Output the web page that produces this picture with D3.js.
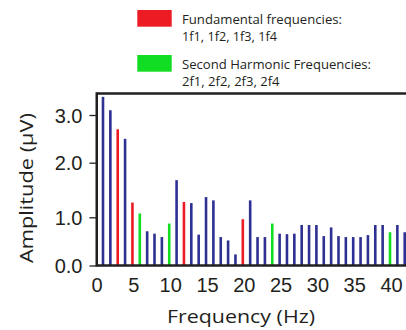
<!DOCTYPE html>
<html><head><meta charset="utf-8">
<script src="https://cdn.jsdelivr.net/npm/d3@7"></script>
<style>
html,body{margin:0;padding:0;background:#fff;overflow:hidden;}
svg{display:block;font-family:"Open Sans",sans-serif;}
</style></head>
<body>
<svg id="chart" width="406" height="330"></svg>
<script>
const freqs = [1,2,3,4,5,6,7,8,9,10,11,12,13,14,15,16,17,18,19,20,21,22,23,24,25,26,27,28,29,30,31,32,33,34,35,36,37,38,39,40,41,42];
const amps = [3.38,3.10,2.70,2.50,1.27,1.07,0.71,0.66,0.59,0.87,1.68,1.28,1.26,0.64,1.37,1.31,0.59,0.52,0.23,0.96,1.31,0.59,0.59,0.87,0.66,0.65,0.66,0.84,0.84,0.84,0.61,0.79,0.61,0.59,0.59,0.59,0.63,0.84,0.84,0.69,0.84,0.69];
const fundamentals = [3,5,12,20];
const harmonics = [6,10,24,40];
const xTicks = [0,5,10,15,20,25,30,35,40];
const yTicks = [0,1,2,3];
const yTickPos = [265.5,217.3,162.7,115]; // pixel rows of the (unevenly drawn) y ticks
const legendItems = [
  {label:["Fundamental frequencies:","1f1, 1f2, 1f3, 1f4"], widths:[160,95], color:"#ed1c24"},
  {label:["Second Harmonic Frequencies:","2f1, 2f2, 2f3, 2f4"], widths:[189,97.5], color:"#11dd22"}
];
const colors = {base:"#2e3192", fund:"#ed1c24", harm:"#11dd22", ink:"#231f20"};

const svg = d3.select("#chart");
const x = d3.scaleLinear().domain([1,40]).range([103,390]);
const y = d3.scaleLinear().domain(yTicks).range(yTickPos);
const yMax = 3.45;
const frameLeft = x(0) + 1.1;

// bars
svg.append("g").selectAll("rect").data(freqs).join("rect")
  .attr("x", d => x(d) - 1.3)
  .attr("width", 2.6)
  .attr("y", (d,i) => y(amps[i]))
  .attr("height", (d,i) => y(0) - y(amps[i]))
  .attr("fill", d => fundamentals.includes(d) ? colors.fund : harmonics.includes(d) ? colors.harm : colors.base);

// frame
const sw = 2.5;
svg.append("line").attr("x1",frameLeft).attr("x2",406).attr("y1",y(yMax)).attr("y2",y(yMax))
  .attr("stroke",colors.ink).attr("stroke-width",sw);
svg.append("line").attr("x1",frameLeft).attr("x2",406).attr("y1",y(0)).attr("y2",y(0))
  .attr("stroke",colors.ink).attr("stroke-width",sw);
svg.append("line").attr("x1",frameLeft).attr("x2",frameLeft).attr("y1",y(yMax)-sw/2).attr("y2",y(0)+sw/2)
  .attr("stroke",colors.ink).attr("stroke-width",sw);

// y axis
const yAxis = d3.axisLeft(y).tickValues(yTicks).tickFormat(d3.format(".1f")).tickSize(6.5).tickPadding(7);
const gy = svg.append("g").attr("transform",`translate(${frameLeft-0.8},0)`).call(yAxis);
gy.select(".domain").remove();
gy.selectAll("line").attr("stroke",colors.ink).attr("stroke-width",1.3);
gy.selectAll("text").attr("fill",colors.ink).style("font-size","20px").attr("dy","0.35em");

// x axis
const xAxis = d3.axisBottom(x).tickValues(xTicks).tickSize(0).tickPadding(12);
const gx = svg.append("g").attr("transform",`translate(1,${y(0)})`).call(xAxis);
gx.select(".domain").remove();
gx.selectAll("text").attr("fill",colors.ink).style("font-size","20px");

// axis titles
svg.append("text").attr("transform","translate(33,188) rotate(-90)")
  .attr("text-anchor","middle").attr("fill",colors.ink).style("font-size","19px")
  .attr("textLength",150).attr("lengthAdjust","spacingAndGlyphs")
  .text("Amplitude (μV)");
svg.append("text").attr("x",241).attr("y",322.5)
  .attr("text-anchor","middle").attr("fill",colors.ink).style("font-size","18px")
  .attr("textLength",148).attr("lengthAdjust","spacingAndGlyphs")
  .text("Frequency (Hz)");

// legend
const lg = svg.append("g");
legendItems.forEach((it,i) => {
  const oy = i*45;
  lg.append("rect").attr("x",137.3).attr("y",10+oy).attr("width",34.4).attr("height",16.7).attr("fill",it.color);
  it.label.forEach((t,j) => {
    lg.append("text").attr("x",182).attr("y",24.3+oy+j*17.1)
      .attr("fill",colors.ink).style("font-size","13.5px")
      .attr("textLength",it.widths[j]).attr("lengthAdjust","spacingAndGlyphs")
      .text(t);
  });
});
</script>
</body></html>
